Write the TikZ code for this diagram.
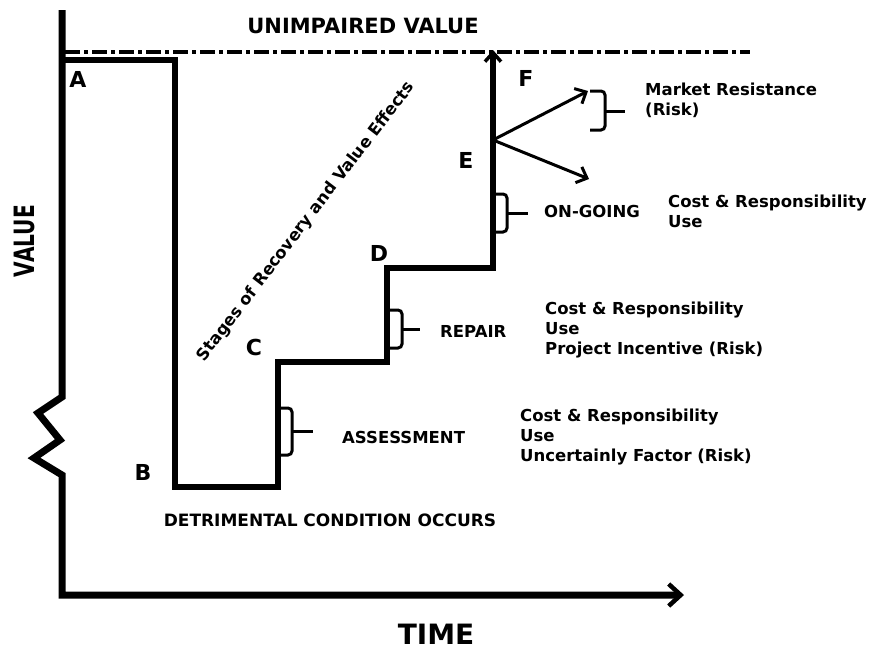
\documentclass[tikz,border=0pt]{standalone}
\usepackage{fontspec}
\usepackage{graphicx}
\setmainfont{DejaVu Sans}
\usetikzlibrary{arrows.meta}

\begin{document}
\begin{tikzpicture}[
    x=1pt, y=-1pt,
    font=\fontsize{16.5}{20}\selectfont\bfseries,
    axis/.style={line width=7pt, line join=miter},
    stair/.style={line width=6pt, line join=miter},
    brace/.style={line width=3pt, rounded corners=4pt},
    branch/.style={line width=3pt, -{Straight Barb[length=9pt, width=17pt, line width=3pt]}},
    letter/.style={font=\fontsize{22}{22}\selectfont\bfseries},
    big/.style={font=\fontsize{28}{28}\selectfont\bfseries},
    stage/.style={anchor=west, inner sep=0pt},
    note/.style={anchor=west, align=left, inner sep=0pt}
  ]
  \useasboundingbox (0,0) rectangle (869,651);

  % axes
  \coordinate (ytop) at (62,10);
  \coordinate (z1) at (62,397);
  \coordinate (z2) at (38,413);
  \coordinate (z3) at (60,440);
  \coordinate (z4) at (34,458);
  \coordinate (z5) at (62,475);
  \coordinate (o) at (62,595);
  \coordinate (xend) at (684,595);
  \draw[axis, -{Straight Barb[length=12pt, width=22pt, line width=4.5pt]}]
    (ytop) -- (z1) -- (z2) -- (z3) -- (z4) -- (z5) -- (o) -- (xend);
  \node[big] (time) at (436,634) {TIME};
  \node[big, rotate=90] (value) at (24,241) {\scalebox{0.72}[1]{VALUE}};

  % unimpaired value line
  \coordinate (u1) at (65,52);
  \coordinate (u2) at (750,52);
  \draw[line width=4.5pt, dash pattern=on 15pt off 4pt on 4pt off 4pt] (u1) -- (u2);
  \node[font=\fontsize{21}{21}\selectfont\bfseries] (unimp) at (363,26) {UNIMPAIRED VALUE};

  % value path
  \coordinate (pa) at (62,60);
  \coordinate (pa2) at (175,60);
  \coordinate (pb) at (175,487);
  \coordinate (pb2) at (278,487);
  \coordinate (pc) at (278,362);
  \coordinate (pc2) at (387,362);
  \coordinate (pd) at (387,268);
  \coordinate (pd2) at (493,268);
  \coordinate (pe) at (493,140);
  \coordinate (pf) at (493,50);
  \draw[stair] (pa) -- (pa2) -- (pb) -- (pb2) -- (pc) -- (pc2) -- (pd) -- (pd2) -- (pe);
  \draw[stair, -{Straight Barb[length=9pt, width=16pt, line width=3.5pt]}] (pe) -- (pf);

  \node[letter] (A) at (78,79) {A};
  \node[letter] (B) at (143,472) {B};
  \node[letter] (C) at (254,347) {C};
  \node[letter] (D) at (379,253) {D};
  \node[letter] (E) at (466,160) {E};
  \node[letter] (F) at (526,78) {F};

  \node[rotate=52.6] (stages) at (306,222) {Stages of Recovery and Value Effects};
  \node[font=\fontsize{17}{17}\selectfont\bfseries] (detr) at (330,520) {DETRIMENTAL CONDITION OCCURS};

  % braces
  \draw[brace] (278,408) -- (292,408) -- (292,455) -- (278,455);
  \draw[brace] (292,431) -- (313,431);
  \draw[brace] (387,310) -- (402,310) -- (402,348) -- (387,348);
  \draw[brace] (402,329) -- (420,329);
  \draw[brace] (493,194) -- (507,194) -- (507,232) -- (493,232);
  \draw[brace] (507,213) -- (528,213);
  \draw[brace] (590,91) -- (605,91) -- (605,130) -- (590,130);
  \draw[brace] (605,111) -- (625,111);

  % market effects
  \coordinate (up) at (588,91);
  \coordinate (down) at (589,179);
  \draw[branch] (pe) -- (up);
  \draw[branch] (pe) -- (down);

  \node[stage] (assess) at (342,437) {ASSESSMENT};
  \node[stage] (repair) at (440,331) {REPAIR};
  \node[stage] (ongoing) at (544,211) {ON-GOING};

  \node[note] (n1) at (520,437) {Cost \& Responsibility\\Use\\Uncertainly Factor (Risk)};
  \node[note] (n2) at (545,330) {Cost \& Responsibility\\Use\\Project Incentive (Risk)};
  \node[note] (n3) at (668,211) {Cost \& Responsibility\\Use};
  \node[note] (n4) at (645,100) {Market Resistance\\(Risk)};
\end{tikzpicture}
\end{document}
